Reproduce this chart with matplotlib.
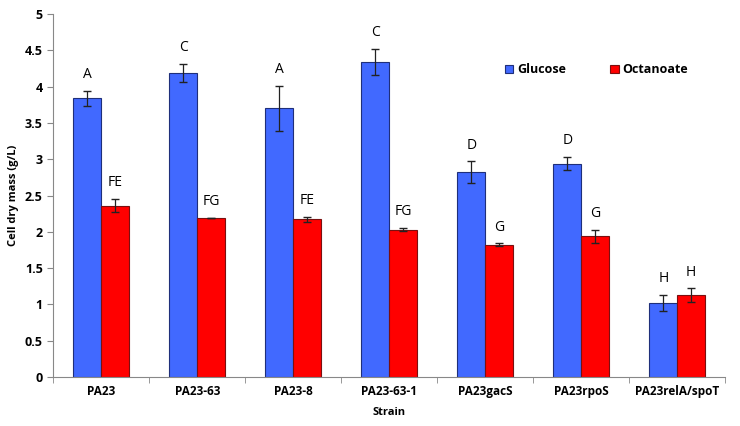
import numpy as np
import matplotlib.pyplot as plt

strains = ["PA23", "PA23-63", "PA23-8", "PA23-63-1", "PA23gacS", "PA23rpoS", "PA23relA/spoT"]
glucose = [3.84, 4.19, 3.70, 4.34, 2.82, 2.94, 1.02]
glucose_err = [0.10, 0.12, 0.31, 0.18, 0.15, 0.09, 0.11]
octanoate = [2.36, 2.19, 2.17, 2.03, 1.82, 1.94, 1.13]
octanoate_err = [0.09, 0.005, 0.04, 0.02, 0.02, 0.09, 0.09]
glucose_letters = ["A", "C", "A", "C", "D", "D", "H"]
octanoate_letters = ["FE", "FG", "FE", "FG", "G", "G", "H"]

plt.rcParams['font.family'] = ['Open Sans', 'DejaVu Sans']

fig = plt.figure(figsize=(7.4, 4.26), dpi=100)
ax = fig.add_axes([0.072, 0.115, 0.908, 0.852])

x = np.arange(len(strains))
w = 0.29
ax.bar(x - w/2, glucose, w, color="#4169FF", edgecolor="#1F2F7A", linewidth=0.8,
       yerr=glucose_err, capsize=3, error_kw=dict(ecolor="#222222", elinewidth=0.9),
       label="Glucose", zorder=2)
ax.bar(x + w/2, octanoate, w, color="#FF0000", edgecolor="#7A1010", linewidth=0.8,
       yerr=octanoate_err, capsize=3, error_kw=dict(ecolor="#222222", elinewidth=0.9),
       label="Octanoate", zorder=2)

for i in range(len(strains)):
    ax.text(x[i] - w/2, glucose[i] + glucose_err[i] + 0.12, glucose_letters[i],
            ha="center", va="bottom", fontsize=10)
    ax.text(x[i] + w/2, octanoate[i] + octanoate_err[i] + 0.12, octanoate_letters[i],
            ha="center", va="bottom", fontsize=10)

ax.set_xlim(-0.5, len(strains) - 0.5)
ax.set_ylim(0, 5)
ax.set_yticks(np.arange(0, 5.01, 0.5))
ax.set_yticklabels([f"{v:g}" for v in np.arange(0, 5.01, 0.5)], fontweight="bold", fontsize=9)
ax.set_xticks(x)
ax.set_xticklabels(strains, fontweight="bold", fontsize=8.5)
ax.set_xticks(np.arange(-0.5, len(strains), 1), minor=True)
ax.tick_params(axis="x", which="major", length=0, pad=6)
ax.tick_params(axis="x", which="minor", length=4, direction="out", color="#888888")
ax.tick_params(axis="y", length=4, direction="out", color="#888888")
for s in ["top", "right"]:
    ax.spines[s].set_visible(False)
for s in ["left", "bottom"]:
    ax.spines[s].set_color("#888888")

ax.set_xlabel("Strain", fontweight="bold", fontsize=8, labelpad=6)
ax.set_ylabel("Cell dry mass (g/L)", fontweight="bold", fontsize=8)

ax.legend(loc="upper left", bbox_to_anchor=(0.655, 0.895), ncol=2, frameon=False,
          handlelength=0.7, handleheight=0.7, columnspacing=3.5, handletextpad=0.3,
          prop=dict(weight="bold", size=9))

fig.savefig("out.png", dpi=100)
